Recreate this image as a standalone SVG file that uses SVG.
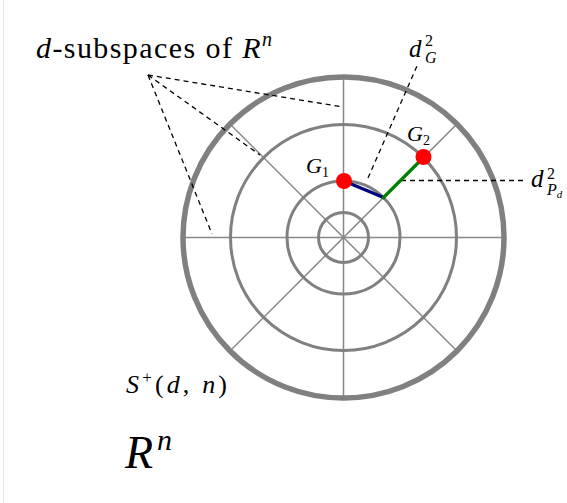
<svg xmlns="http://www.w3.org/2000/svg" width="567" height="503" viewBox="0 0 567 503">
<style>
.t{font-family:"Liberation Serif","DejaVu Serif",serif;fill:#000}
.i{font-style:italic}
.spoke{stroke:#888;stroke-width:1.5;fill:none}
.ring{stroke:#808080;stroke-width:3;fill:none}
.dash{stroke:#000;stroke-width:1.3;stroke-dasharray:5,4;fill:none}
</style>
<rect x="0" y="0" width="567" height="503" fill="#fff"/>
<line x1="3.5" y1="0" x2="3.5" y2="503" stroke="#e4e4e4" stroke-width="1"/>
<g id="grid">
<line class="spoke" x1="183" y1="237.5" x2="504" y2="237.5"/>
<line class="spoke" x1="343.5" y1="77" x2="343.5" y2="398"/>
<line class="spoke" x1="230" y1="124" x2="457" y2="351"/>
<line class="spoke" x1="230" y1="351" x2="457" y2="124"/>
</g>
<g id="rings">
<circle class="ring" cx="343.5" cy="237.5" r="25"/>
<circle class="ring" cx="343.5" cy="237.5" r="56.5"/>
<circle class="ring" cx="343.5" cy="237.5" r="113"/>
<circle cx="343.5" cy="237.5" r="160.5" fill="none" stroke="#808080" stroke-width="5.5"/>
</g>
<g id="connectors">
<line class="dash" x1="148" y1="75" x2="343" y2="107"/>
<line class="dash" x1="148" y1="75" x2="260" y2="155"/>
<line class="dash" x1="148" y1="75" x2="212" y2="234"/>
<line class="dash" x1="368" y1="178" x2="417" y2="66"/>
<line class="dash" x1="401" y1="180.5" x2="524" y2="180.5"/>
<line x1="344" y1="181" x2="383.5" y2="197.5" stroke="#000080" stroke-width="3.2" stroke-linecap="round"/>
<line x1="383.5" y1="197.5" x2="423.5" y2="157.5" stroke="#008000" stroke-width="3.2" stroke-linecap="round"/>
</g>
<g id="G1">
<circle cx="344" cy="181" r="8" fill="#ff0000"/>
<text class="t" x="306" y="173" font-size="22"><tspan class="i">G</tspan><tspan font-size="14" dy="4">1</tspan></text>
</g>
<g id="G2">
<circle cx="423.5" cy="157" r="8" fill="#ff0000"/>
<text class="t" x="407" y="141" font-size="22"><tspan class="i">G</tspan><tspan font-size="14" dy="4">2</tspan></text>
</g>
<g id="labels">
<text class="t" x="36" y="58" font-size="30" textLength="236" lengthAdjust="spacing"><tspan class="i">d</tspan>-subspaces of <tspan class="i">R</tspan><tspan class="i" font-size="20" dy="-12">n</tspan></text>
<text class="t i" x="409" y="57" font-size="25">d</text>
<text class="t" x="425" y="46" font-size="16">2</text>
<text class="t i" x="425" y="63" font-size="16">G</text>
<text class="t i" x="531" y="187" font-size="25">d</text>
<text class="t" x="547" y="179" font-size="16">2</text>
<text class="t i" x="547" y="195" font-size="16">P<tspan font-size="11" dy="3">d</tspan></text>
<text class="t" x="126" y="393" font-size="26" textLength="101" lengthAdjust="spacing"><tspan class="i">S</tspan><tspan font-size="17" dy="-10">+</tspan><tspan dy="10">(</tspan><tspan class="i">d</tspan>, <tspan class="i">n</tspan>)</text>
<text class="t" x="125" y="468" font-size="46"><tspan class="i">R</tspan><tspan class="i" font-size="30" dy="-18" dx="4">n</tspan></text>
</g>
</svg>
